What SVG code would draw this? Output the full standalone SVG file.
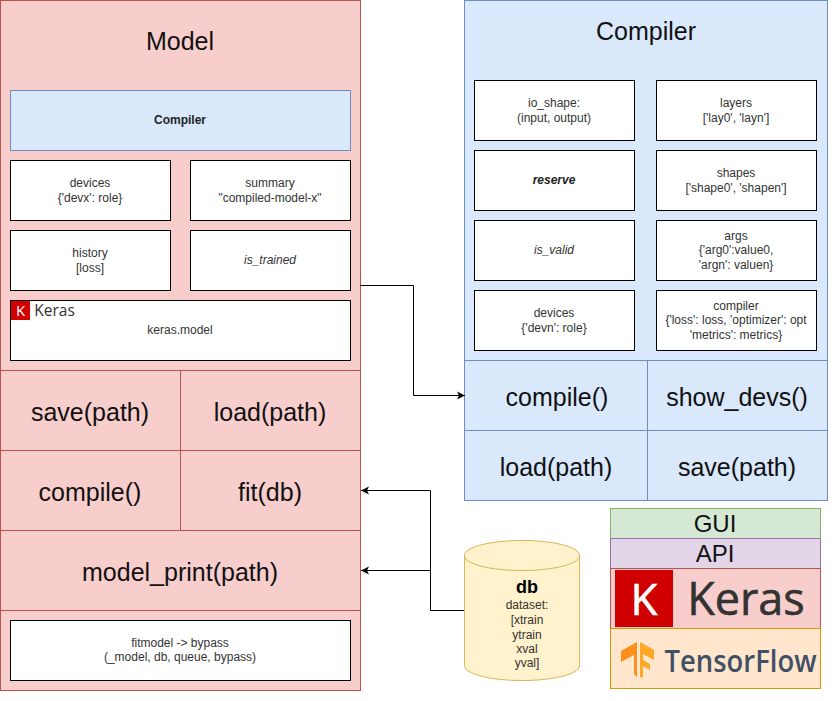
<svg xmlns="http://www.w3.org/2000/svg" width="840" height="701" viewBox="0 0 840 701">
<style>
text{font-family:"Liberation Sans",Arial,sans-serif;text-anchor:middle;fill:#000}
.w{fill:#fff;stroke:#000;stroke-width:1}
.r{fill:#f8cecc;stroke:#b85450;stroke-width:1}
.b{fill:#dae8fc;stroke:#6c8ebf;stroke-width:1}
.s{font-size:12px;fill:#333}
.l{font-size:25px;fill:#111}
.t{font-size:25px;fill:#111}
.c{fill:none;stroke:#000;stroke-width:1}
.o{font-family:"Open Sans","Liberation Sans",sans-serif}
</style>
<defs>
<marker id="a" markerUnits="userSpaceOnUse" markerWidth="10" markerHeight="10" refX="8" refY="4" orient="auto" viewBox="0 0 10 8"><path d="M0 0L8 4L0 8L2 4Z" fill="#000"/></marker>
</defs>
<g id="model">
<rect class="r" x="0.5" y="0.5" width="360" height="690"/>
<text class="t" x="180" y="50">Model</text>
</g>
<g id="model-compiler"><rect class="b" x="10.5" y="90.5" width="340" height="60"/><text x="180" y="124" font-size="12" font-weight="bold" style="fill:#222">Compiler</text></g>
<g id="model-devices"><rect class="w" x="10.5" y="160.5" width="160" height="60"/><text class="s" x="90" y="187">devices</text><text class="s" x="90" y="202">{'devx': role}</text></g>
<g id="model-summary"><rect class="w" x="190.5" y="160.5" width="160" height="60"/><text class="s" x="270" y="187">summary</text><text class="s" x="270" y="202">"compiled-model-x"</text></g>
<g id="model-history"><rect class="w" x="10.5" y="230.5" width="160" height="60"/><text class="s" x="90" y="257">history</text><text class="s" x="90" y="272">[loss]</text></g>
<g id="model-is-trained"><rect class="w" x="190.5" y="230.5" width="160" height="60"/><text class="s" x="270" y="264" font-style="italic">is_trained</text></g>
<g id="model-keras"><rect class="w" x="10.5" y="300.5" width="340" height="60"/>
<rect x="11" y="301" width="19" height="19" fill="#d00000"/>
<text class="o" x="20.500" y="316" font-size="15" style="fill:#fff">K</text>
<text class="o" x="54.500" y="315.500" font-size="15.500" style="fill:#333">Keras</text>
<text class="s" x="180" y="334">keras.model</text></g>
<g id="model-save"><rect class="r" x="0.5" y="370.500" width="180" height="80"/><text class="l" x="90" y="421">save(path)</text></g>
<g id="model-load"><rect class="r" x="180.500" y="370.500" width="180" height="80"/><text class="l" x="270" y="421">load(path)</text></g>
<g id="model-compile"><rect class="r" x="0.500" y="450.500" width="180" height="80"/><text class="l" x="90" y="501">compile()</text></g>
<g id="model-fit"><rect class="r" x="180.500" y="450.500" width="180" height="80"/><text class="l" x="270" y="501">fit(db)</text></g>
<g id="model-print"><rect class="r" x="0.500" y="530.500" width="360" height="80"/><text class="l" x="180" y="581">model_print(path)</text></g>
<g id="model-fitmodel"><rect class="w" x="10.500" y="620.500" width="340" height="60"/><text class="s" x="180" y="647">fitmodel -&gt; bypass</text><text class="s" x="180" y="661">(_model, db, queue, bypass)</text></g>

<g id="compiler"><rect class="b" x="464.500" y="0.500" width="363" height="500"/><text class="t" x="646" y="40">Compiler</text></g>
<g id="c-io"><rect class="w" x="474.500" y="80.500" width="160" height="60"/><text class="s" x="554" y="107">io_shape:</text><text class="s" x="554" y="122">(input, output)</text></g>
<g id="c-layers"><rect class="w" x="656.500" y="80.500" width="160" height="60"/><text class="s" x="736" y="107">layers</text><text class="s" x="736" y="122">['lay0', 'layn']</text></g>
<g id="c-reserve"><rect class="w" x="474.500" y="150.500" width="160" height="60"/><text x="554" y="184" font-size="12" font-weight="bold" font-style="italic" style="fill:#222">reserve</text></g>
<g id="c-shapes"><rect class="w" x="656.500" y="150.500" width="160" height="60"/><text class="s" x="736" y="177">shapes</text><text class="s" x="736" y="192">['shape0', 'shapen']</text></g>
<g id="c-valid"><rect class="w" x="474.500" y="220.500" width="160" height="60"/><text class="s" x="554" y="254" font-style="italic">is_valid</text></g>
<g id="c-args"><rect class="w" x="656.500" y="220.500" width="160" height="60"/><text class="s" x="736" y="240">args</text><text class="s" x="736" y="254">{'arg0':value0,</text><text class="s" x="736" y="269">'argn': valuen}</text></g>
<g id="c-devices"><rect class="w" x="474.500" y="290.500" width="160" height="60"/><text class="s" x="554" y="317">devices</text><text class="s" x="554" y="332">{'devn': role}</text></g>
<g id="c-compiler"><rect class="w" x="656.500" y="290.500" width="160" height="60"/><text class="s" x="736" y="310">compiler</text><text class="s" x="736" y="324">{'loss': loss, 'optimizer': opt</text><text class="s" x="736" y="339">'metrics': metrics}</text></g>
<g id="c-compile"><rect class="b" x="464.500" y="360.500" width="183" height="70"/><text class="l" x="557" y="406">compile()</text></g>
<g id="c-show"><rect class="b" x="647.500" y="360.500" width="180" height="70"/><text class="l" x="737" y="406">show_devs()</text></g>
<g id="c-load"><rect class="b" x="464.500" y="430.500" width="183" height="70"/><text class="l" x="556" y="476">load(path)</text></g>
<g id="c-save"><rect class="b" x="647.500" y="430.500" width="180" height="70"/><text class="l" x="737" y="476">save(path)</text></g>

<g id="db">
<path d="M464.500 555.500C464.500 547 490 540.500 522 540.500C554 540.500 579.500 547 579.500 555.500V665.500C579.500 674 554 680.500 522 680.500C490 680.500 464.500 674 464.500 665.500Z" fill="#fff2cc" stroke="#d6b656"/>
<path d="M464.500 555.500C464.500 564 490 570.500 522 570.500C554 570.500 579.500 564 579.500 555.500" fill="none" stroke="#d6b656"/>
<text x="527" y="593" font-size="18" font-weight="bold">db</text>
<text class="s" x="527" y="609">dataset:</text><text class="s" x="527" y="624">[xtrain</text><text class="s" x="527" y="639">ytrain</text><text class="s" x="527" y="653">xval</text><text class="s" x="527" y="667">yval]</text>
</g>

<g id="stack-gui"><rect x="610.500" y="508.500" width="210" height="30" fill="#d5e8d4" stroke="#82b366"/><text x="715" y="532" font-size="24" style="fill:#111">GUI</text></g>
<g id="stack-api"><rect x="610.500" y="538.500" width="210" height="30" fill="#e1d5e7" stroke="#9673a6"/><text x="715" y="562" font-size="24" style="fill:#111">API</text></g>
<g id="stack-keras"><rect x="610.500" y="568.500" width="210" height="60" fill="#f8cecc" stroke="#b85450"/>
<rect x="615" y="570" width="58" height="57" fill="#d00000"/>
<text class="o" x="644" y="615" font-size="44" style="fill:#fff;stroke:#fff;stroke-width:.6">K</text>
<text class="o" x="746" y="615" font-size="45" style="fill:#333;stroke:#333;stroke-width:.6">Keras</text></g>
<g id="stack-tensorflow"><rect x="610.500" y="628.500" width="210" height="60" fill="#ffe6cc" stroke="#d79b00"/>
<path d="M637 642L621 651V662L634 655V674L637 677Z" fill="#ff8f1a"/><path d="M640 642L654 650V660L643 654V660L650 664V670L643 666V678L640 677Z" fill="#ffa726"/>
<text class="o" x="740.500" y="672" font-size="31" font-weight="600" textLength="152" lengthAdjust="spacingAndGlyphs" style="fill:#425066">TensorFlow</text></g>

<g id="connectors">
<path class="c" d="M360 285.500H413.500V395.500H465" marker-end="url(#a)"/>
<path class="c" d="M464 610.500H430.500V490.500H361" marker-end="url(#a)"/>
<path class="c" d="M430.500 570.500H361" marker-end="url(#a)"/>
</g>
</svg>
